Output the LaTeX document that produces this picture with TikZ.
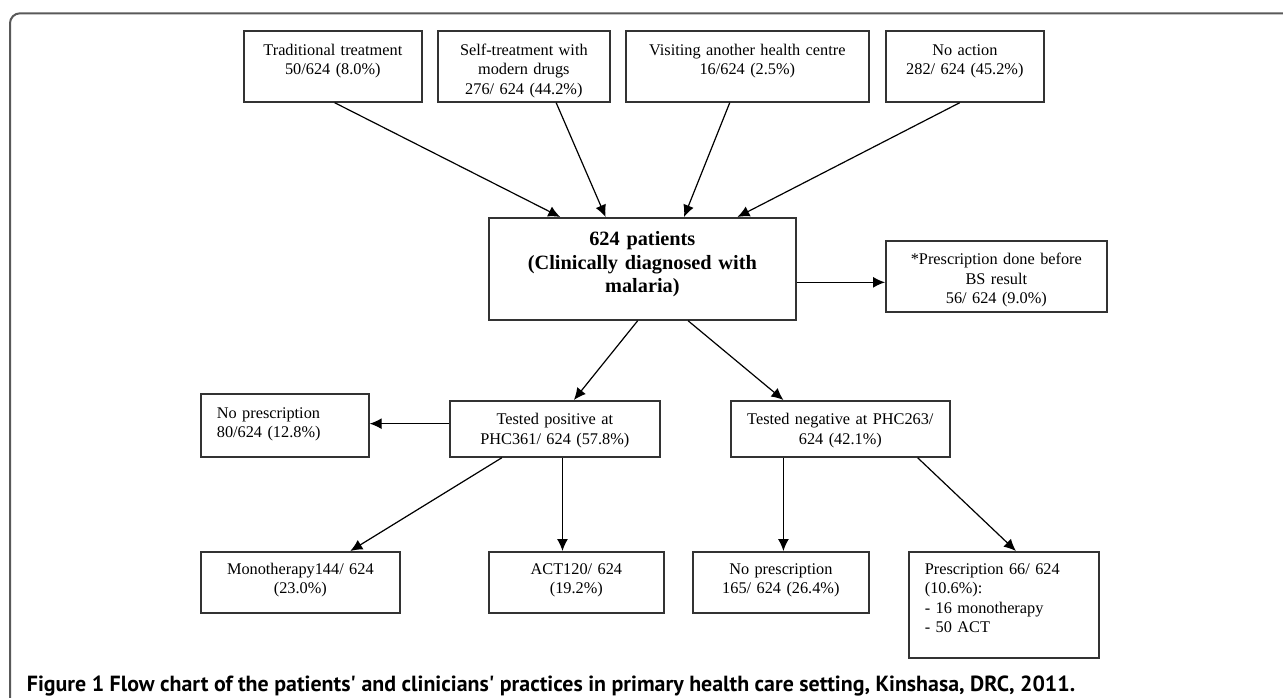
\documentclass[tikz,border=0pt]{standalone}
\usepackage{fontspec}
\setmainfont{Liberation Serif}
\newfontfamily\capfont{PT Sans}
\usetikzlibrary{calc}
\usetikzlibrary{arrows.meta}
\tikzset{
	flowbox/.style={draw=black!80, line width=1.7pt, anchor=north west, inner xsep=0pt, inner ysep=0pt,
		font=\fontsize{16.3}{19.5}\selectfont, align=center},
	leftbox/.style={flowbox, align=left, inner xsep=16pt},
	flowarrow/.style={line width=1.2pt, -{Latex[length=12pt,width=11pt]}},
}

\begin{document}
\begin{tikzpicture}[x=1pt,y=-1pt]
	\useasboundingbox (0,0) rectangle (1283,698);
	\draw[line width=2pt, black!65, rounded corners=10pt] (10,698) -- (10,13.3) -- (1283,13.3);
	% first row
	\node[flowbox, text width=178pt, text height=24.5pt, text depth=46.5pt] (trad) at (243,30) {Traditional treatment\\50/624 (8.0\%)};
	\node[flowbox, text width=172pt, text height=24.5pt, text depth=46.5pt] (self) at (437,30) {Self-treatment with\\modern drugs\\276/ 624 (44.2\%)};
	\node[flowbox, text width=243pt, text height=24.5pt, text depth=46.5pt] (visit) at (625,30) {Visiting another health centre\\16/624 (2.5\%)};
	\node[flowbox, text width=158pt, text height=24.5pt, text depth=46.5pt] (noact) at (885,30) {No action\\282/ 624 (45.2\%)};
	% patients
	\node[flowbox, text width=307pt, text height=28pt, text depth=74pt, font=\bfseries\fontsize{20.3}{23.5}\selectfont] (central) at (488,217) {624 patients\\(Clinically diagnosed with\\malaria)};
	\node[flowbox, text width=221pt, text height=24pt, text depth=47pt] (bs) at (885,240) {*Prescription done before\\BS result\\56/ 624 (9.0\%)};
	% test results
	\node[leftbox, text width=136pt, text height=24.5pt, text depth=38.5pt] (nopres) at (200,393) {No prescription\\80/624 (12.8\%)};
	\node[flowbox, text width=210pt, text height=23.8pt, text depth=32.2pt] (pos) at (449,400) {Tested positive at\\PHC361/ 624 (57.8\%)};
	\node[flowbox, text width=219pt, text height=23.8pt, text depth=32.2pt] (neg) at (730,400) {Tested negative at PHC263/\\624 (42.1\%)};
	% treatments
	\node[flowbox, text width=199pt, text height=22.5pt, text depth=38.5pt] (mono) at (200,551) {Monotherapy144/ 624\\(23.0\%)};
	\node[flowbox, text width=175pt, text height=22.5pt, text depth=38.5pt] (act) at (488,551) {ACT120/ 624\\(19.2\%)};
	\node[flowbox, text width=176pt, text height=22.5pt, text depth=38.5pt] (negnopres) at (692,551) {No prescription\\165/ 624 (26.4\%)};
	\node[leftbox, text width=158pt, text height=22.5pt, text depth=83.5pt] (negpres) at (908,551) {Prescription 66/ 624\\(10.6\%):\\- 16 monotherapy\\- 50 ACT};

	\draw[flowarrow] ($(trad.south west)!0.51!(trad.south east)$) -- ($(central.north west)!0.234!(central.north east)$);
	\draw[flowarrow] ($(self.south west)!0.686!(self.south east)$) -- ($(central.north west)!0.381!(central.north east)$);
	\draw[flowarrow] ($(visit.south west)!0.428!(visit.south east)$) -- ($(central.north west)!0.635!(central.north east)$);
	\draw[flowarrow] ($(noact.south west)!0.468!(noact.south east)$) -- ($(central.north west)!0.808!(central.north east)$);
	\coordinate (cb) at ($(central.north east)!0.63!(central.south east)$);
	\draw[flowarrow] (cb) -- (cb -| bs.west);
	\draw[flowarrow] ($(central.south west)!0.485!(central.south east)$) -- ($(pos.north west)!0.59!(pos.north east)$);
	\draw[flowarrow] ($(central.south west)!0.648!(central.south east)$) -- ($(neg.north west)!0.242!(neg.north east)$);
	\coordinate (pn) at ($(pos.north west)!0.41!(pos.south west)$);
	\draw[flowarrow] (pn) -- (pn -| nopres.east);
	\draw[flowarrow] ($(pos.south west)!0.25!(pos.south east)$) -- ($(mono.north west)!0.749!(mono.north east)$);
	\coordinate (pa) at ($(pos.south west)!0.536!(pos.south east)$);
	\draw[flowarrow] (pa) -- (pa |- act.north);
	\coordinate (nn) at ($(neg.south west)!0.242!(neg.south east)$);
	\draw[flowarrow] (nn) -- (nn |- negnopres.north);
	\draw[flowarrow] ($(neg.south west)!0.85!(neg.south east)$) -- ($(negpres.north west)!0.563!(negpres.north east)$);

	\node[anchor=base west, inner sep=0pt, font=\capfont\bfseries\fontsize{21.9}{25}\selectfont] (caption) at (26.7,691.5)
		{Figure 1 Flow chart of the patients' and clinicians' practices in primary health care setting, Kinshasa, DRC, 2011.};
\end{tikzpicture}
\end{document}
